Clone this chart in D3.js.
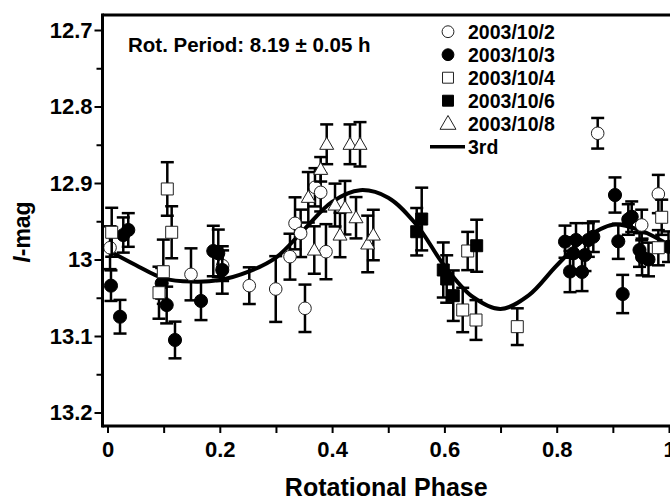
<!DOCTYPE html>
<html><head><meta charset="utf-8">
<script src="https://cdn.jsdelivr.net/npm/d3@7"></script>
<style>
html,body{margin:0;padding:0;background:#fff;}
svg{display:block;font-family:"Liberation Sans",Arial,sans-serif;}
</style></head>
<body>
<svg id="chart" width="670" height="500"></svg>
<script>
// ---- data: [phase, I-mag, error] ----
const d1002 = [
  [0.0045,12.9846,0.028],[0.1487,13.0194,0.034],[0.205,13.0081,0.02],[0.2525,13.0342,0.024],
  [0.2996,13.0386,0.043],[0.325,12.9963,0.030],[0.334,12.9527,0.034],[0.344,12.9658,0.031],
  [0.3517,13.0638,0.031],[0.3695,12.9056,0.025],[0.3797,12.9122,0.025],[0.3891,12.9898,0.036],
  [0.873,12.8350,0.020],[0.9514,12.9549,0.020],[0.981,12.9144,0.025]
];
const d1003 = [
  [0.0062,13.0342,0.020],[0.0223,13.0748,0.022],[0.0281,12.9680,0.023],[0.037,12.9614,0.022],
  [0.0965,13.0311,0.020],[0.1054,13.0595,0.024],[0.1202,13.1052,0.024],[0.1665,13.0542,0.025],
  [0.1884,12.9889,0.033],[0.1973,12.9919,0.031],[0.2044,13.0137,0.031],
  [0.8148,12.9767,0.021],[0.8344,12.9745,0.022],[0.8563,12.9745,0.022],[0.8652,12.9702,0.020],
  [0.8296,12.9919,0.021],[0.8504,12.9941,0.021],[0.8237,13.0157,0.027],[0.8451,13.0163,0.025],
  [0.9038,12.9157,0.023],[0.9097,12.9762,0.023],[0.9175,13.0451,0.025],[0.9275,12.9477,0.020],
  [0.9336,12.9441,0.020],[0.9475,12.9876,0.022],[0.952,12.9967,0.024],[0.9635,13.0000,0.022],
  [0.9991,12.9833,0.020]
];
const d1004 = [
  [0.0075,12.9644,0.032],[0.0917,13.0434,0.034],[0.0994,13.0160,0.042],[0.1065,12.9078,0.035],
  [0.1143,12.9644,0.034],[0.6326,13.0660,0.029],[0.6563,13.0791,0.026],[0.6415,12.9889,0.025],
  [0.7298,13.0878,0.024],[0.981,12.9846,0.023],[0.987,12.9448,0.023]
];
const d1006 = [
  [0.5596,12.9471,0.041],[0.5507,12.9637,0.031],[0.598,13.0137,0.036],[0.6041,13.0255,0.031],
  [0.6158,13.0473,0.033],[0.6575,12.9820,0.034]
];
const d1008 = [
  [0.3904,12.8494,0.026],[0.4319,12.8494,0.026],[0.4497,12.8494,0.029],[0.3797,12.8821,0.016],
  [0.3576,12.9187,0.033],[0.4052,12.9288,0.028],[0.423,12.9323,0.035],[0.4426,12.9454,0.027],
  [0.4141,12.9680,0.029],[0.3683,12.9876,0.031],[0.4634,12.9797,0.037],[0.4734,12.9680,0.033]
];
// 3rd-order fit curve
const fitPhase = [0,0.05,0.1,0.15,0.2,0.25,0.3,0.35,0.4,0.45,0.5,0.55,0.6,0.65,0.7,0.75,0.8,0.85,0.9,0.95,1];
const fitMag = [12.9876,13.0072,13.0246,13.0289,13.0268,13.0163,12.9975,12.9609,12.9246,12.9094,12.9192,
  12.9543,13.0082,13.0486,13.0647,13.0469,13.0078,12.9729,12.9545,12.9622,12.9810];
const seriesNames = ["2003/10/2","2003/10/3","2003/10/4","2003/10/6","2003/10/8"];
const xTickLabels = ["0","0.2","0.4","0.6","0.8","1"];
const yTickLabels = ["12.7","12.8","12.9","13","13.1","13.2"];
const fitName = "3rd";
const noteText = "Rot. Period: 8.19 \u00b1 0.05 h";

// ---- layout ----
const svg = d3.select("#chart");
const x = d3.scaleLinear().domain([0,1]).range([107.5,669]);
const y = d3.scaleLinear().domain([12.7,13.2]).range([30,412.5]);
const pLeft = 102.5, pTop = 15, pBottom = 426, pRight = 680;

// curve
const line = d3.line().x(d=>x(d[0])).y(d=>y(d[1])).curve(d3.curveCatmullRom.alpha(0.5));
svg.append("path").datum(fitPhase.map((p,i)=>[p,fitMag[i]]))
  .attr("d",line).attr("fill","none").attr("stroke","#000").attr("stroke-width",4);

// markers
const shapes = [
  {type:d3.symbolCircle,size:125,fill:"#fff"},
  {type:d3.symbolCircle,size:135,fill:"#000"},
  {type:d3.symbolSquare,size:144,fill:"#fff"},
  {type:d3.symbolSquare,size:144,fill:"#000"},
  {type:d3.symbolTriangle,size:85,fill:"#fff"}
];
const allSeries = [d1002,d1003,d1004,d1006,d1008];
allSeries.forEach((data,si)=>{
  const g = svg.append("g");
  data.forEach(d=>{
    const cx = x(d[0]), y1 = y(d[1]-d[2]), y2 = y(d[1]+d[2]);
    g.append("line").attr("x1",cx).attr("x2",cx).attr("y1",y1).attr("y2",y2)
      .attr("stroke","#000").attr("stroke-width",2.5);
    [y1,y2].forEach(yy=>g.append("line").attr("x1",cx-6.5).attr("x2",cx+6.5).attr("y1",yy).attr("y2",yy)
      .attr("stroke","#000").attr("stroke-width",2.5));
  });
  const sh = shapes[si];
  g.selectAll("path.m").data(data).join("path").attr("class","m")
    .attr("d",d3.symbol().type(sh.type).size(sh.size))
    .attr("transform",d=>`translate(${x(d[0])},${y(d[1])+(si===4?1:0)})`)
    .attr("fill",sh.fill).attr("stroke",sh.fill==="#fff"?"#222":"#000").attr("stroke-width",1);
});

// frame
svg.append("line").attr("x1",pLeft).attr("x2",pLeft).attr("y1",pTop-1.5).attr("y2",pBottom+1.5).attr("stroke","#000").attr("stroke-width",3);
svg.append("line").attr("x1",pLeft).attr("x2",pRight).attr("y1",pTop).attr("y2",pTop).attr("stroke","#000").attr("stroke-width",3);
svg.append("line").attr("x1",pLeft).attr("x2",pRight).attr("y1",pBottom).attr("y2",pBottom).attr("stroke","#000").attr("stroke-width",3);

// x axis
const xAxis = d3.axisBottom(x).tickValues(d3.range(0,11).map(i=>i/10)).tickSize(6).tickPadding(8)
  .tickFormat((d,i)=> i%2===0 ? xTickLabels[i/2] : "");
const gx = svg.append("g").attr("transform",`translate(0,${pBottom+1})`).call(xAxis);
gx.select(".domain").remove();
gx.selectAll(".tick line").attr("stroke","#000").attr("stroke-width",2);
gx.selectAll(".tick text").attr("font-size",22).attr("font-weight","bold").attr("fill","#000");

// y axis
const yAxis = d3.axisLeft(y).tickValues(d3.range(0,11).map(i=>12.7+i*0.05)).tickSize(7).tickPadding(2)
  .tickFormat((d,i)=> i%2===0 ? yTickLabels[i/2] : "");
const gy = svg.append("g").attr("transform",`translate(${pLeft-1},0)`).call(yAxis);
gy.select(".domain").remove();
gy.selectAll(".tick line").attr("stroke","#000").attr("stroke-width",2)
  .attr("x2",(d,i)=> i%2===0 ? -7 : -5);
gy.selectAll(".tick text").attr("font-size",22).attr("font-weight","bold").attr("fill","#000");

// axis titles
svg.append("text").attr("x",(x(0)+x(1))/2-2).attr("y",496).attr("text-anchor","middle")
  .attr("font-size",25).attr("font-weight","bold").text("Rotational Phase");
const yt = svg.append("text").attr("transform","translate(30,232) rotate(-90)").attr("text-anchor","middle")
  .attr("font-size",23).attr("font-weight","bold");
yt.append("tspan").attr("font-style","italic").text("I");
yt.append("tspan").text("-mag");

// note
svg.append("text").attr("x",128).attr("y",52).attr("font-size",20.5).attr("font-weight","bold").text(noteText);

// legend
const lg = svg.append("g");
const ly0 = 31.7, ldy = 23;
seriesNames.forEach((n,i)=>{
  const sh = shapes[i];
  lg.append("path").attr("d",d3.symbol().type(sh.type).size(i===4?110:(i<2?110:120))())
    .attr("transform",`translate(448,${ly0+i*ldy+(i===4?1:0)})`)
    .attr("fill",sh.fill).attr("stroke",sh.fill==="#fff"?"#222":"#000").attr("stroke-width",1);
  lg.append("text").attr("x",468).attr("y",ly0+i*ldy+7).attr("font-size",19.5).attr("font-weight","bold").text(n);
});
lg.append("line").attr("x1",430).attr("x2",465).attr("y1",ly0+5*ldy).attr("y2",ly0+5*ldy).attr("stroke","#000").attr("stroke-width",3.5);
lg.append("text").attr("x",468).attr("y",ly0+5*ldy+7).attr("font-size",19.5).attr("font-weight","bold").text(fitName);
</script>
</body></html>
